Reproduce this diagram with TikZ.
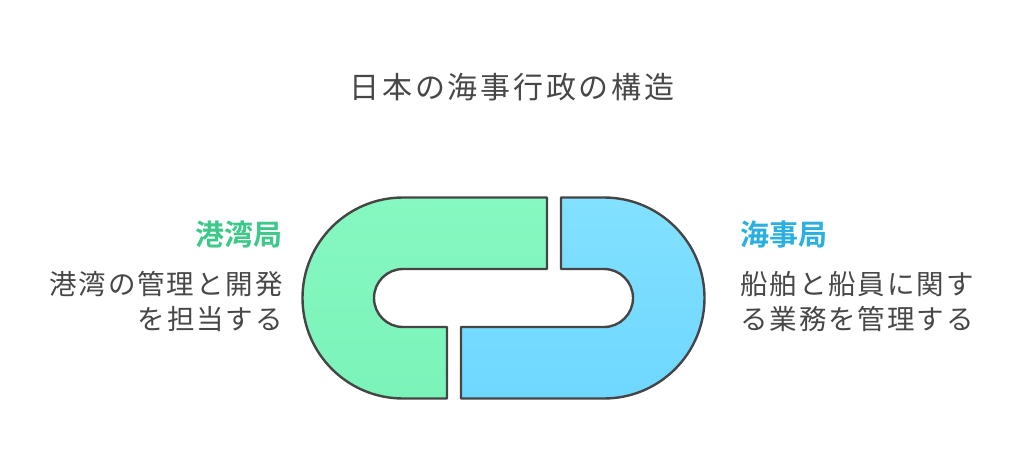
\documentclass[tikz,border=0pt]{standalone}
\usepackage{fontspec}
\usetikzlibrary{positioning}
\newfontfamily\jptitlefont[LetterSpace=9]{Noto Sans CJK JP}
\newfontfamily\jpdescfont[LetterSpace=7]{Noto Sans CJK JP}
\newfontfamily\jpboldfont{Noto Sans CJK JP Bold}
\definecolor{inkgray}{HTML}{454545}
\definecolor{textgray}{HTML}{474747}
\definecolor{portgreen}{HTML}{3DC98A}
\definecolor{portfill}{HTML}{86F8C1}
\definecolor{portfilldark}{HTML}{7AF3B9}
\definecolor{shipblue}{HTML}{2AAFE0}
\definecolor{shipfill}{HTML}{82E1FF}
\definecolor{shipfilldark}{HTML}{6FD7FF}

\begin{document}
\begin{tikzpicture}[x=1pt,y=1pt,title/.style={inner sep=0pt,text=textgray,font=\jptitlefont\fontsize{30}{34}\selectfont},label/.style={inner sep=0pt,font=\jpboldfont\fontsize{29}{33}\selectfont},desc/.style={inner sep=0pt,text=textgray,font=\jpdescfont\fontsize{27.5}{35}\selectfont},link/.style={draw=inkgray,line width=2.4pt,line join=round}]
  \useasboundingbox (0,0) rectangle (1024,472);

  \node[title] (title) at (512,385) {日本の海事行政の構造};

  % left half of the link
  \path[link,top color=portfill,bottom color=portfilldark] (547,274.5) -- (403,274.5) arc[start angle=90,end angle=270,radius=100.5] -- (447,73.5) -- (447,145) -- (403,145) arc[start angle=270,end angle=90,radius=29] -- (547,203) -- cycle;
  % right half of the link
  \path[link,top color=shipfill,bottom color=shipfilldark] (561,274.5) -- (604,274.5) arc[start angle=90,end angle=-90,radius=100.5] -- (461,73.5) -- (461,145) -- (604,145) arc[start angle=-90,end angle=90,radius=29] -- (561,203) -- cycle;

  \node[label,text=portgreen,anchor=east] (portlabel) at (283,237.5) {港湾局};
  \node[desc,align=right,below left=23pt and 0pt of portlabel.south east] (portdesc) {港湾の管理と開発\\を担当する};

  \node[label,text=shipblue,anchor=west] (shiplabel) at (740,237.5) {海事局};
  \node[desc,align=left,below right=23pt and 0pt of shiplabel.south west] (shipdesc) {船舶と船員に関す\\る業務を管理する};
\end{tikzpicture}
\end{document}
